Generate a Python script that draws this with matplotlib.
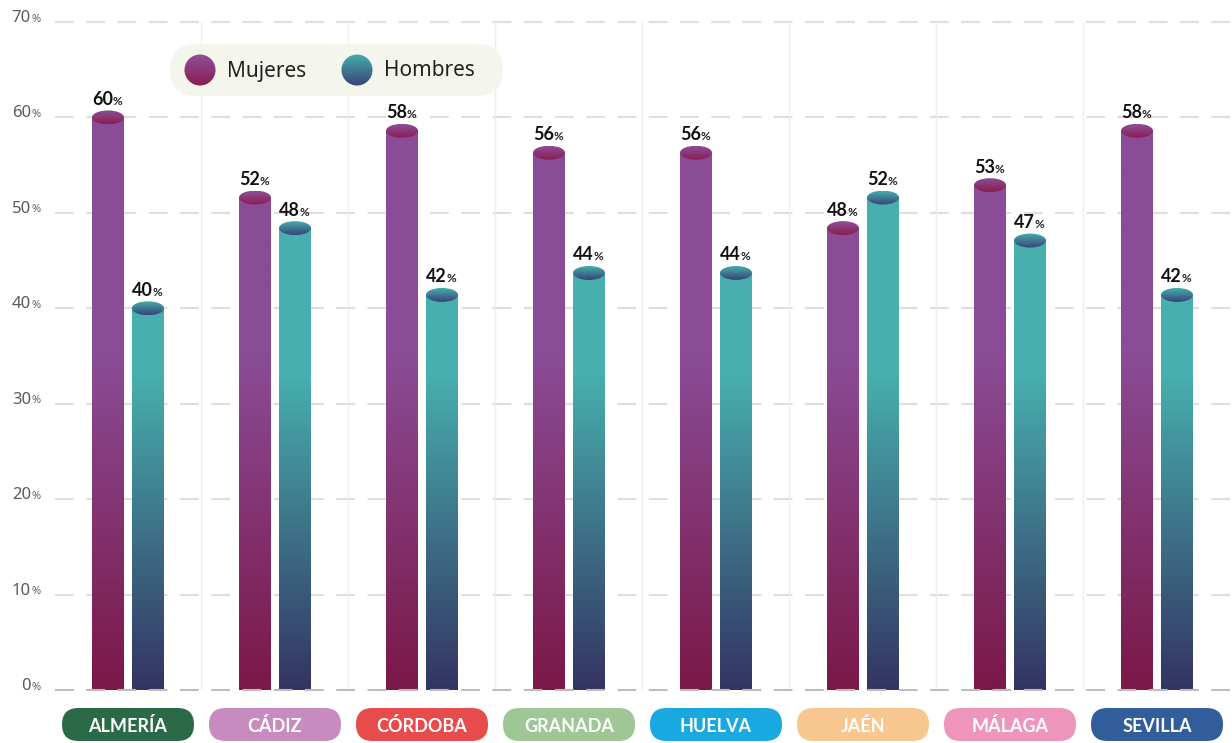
import numpy as np
import matplotlib
matplotlib.use("Agg")
import matplotlib.pyplot as plt
from matplotlib.colors import LinearSegmentedColormap, Normalize
from matplotlib.patches import Ellipse, Circle, FancyBboxPatch

plt.rcParams['font.family'] = ['Noto Sans', 'DejaVu Sans']
BOLD = ['Lato', 'DejaVu Sans']

provincias = ['ALMERÍA', 'CÁDIZ', 'CÓRDOBA', 'GRANADA', 'HUELVA', 'JAÉN', 'MÁLAGA', 'SEVILLA']
pill_colors = ['#2b6a47', '#c78bbf', '#e84b4b', '#9ec795', '#1aa8e0', '#f8c78f', '#ee95bc', '#325d9b']
mujeres = [60.0, 51.6, 58.6, 56.3, 56.3, 48.4, 52.9, 58.6]
hombres = [40.0, 48.4, 41.4, 43.7, 43.7, 51.6, 47.1, 41.4]
mujeres_lbl = ['60', '52', '58', '56', '56', '48', '53', '58']
hombres_lbl = ['40', '48', '42', '44', '44', '52', '47', '42']
yticks = [0, 10, 20, 30, 40, 50, 60, 70]

W, H = 1232, 743
fig = plt.figure(figsize=(W / 100, H / 100), dpi=100)
fig.patch.set_facecolor('white')
ax = fig.add_axes([54.5 / W, (H - 690) / H, (W - 54.5) / W, 668 / H])
ax.set_xlim(-0.5, (W - 128) / 147)
ax.set_ylim(0, 70)
ax.axis('off')

cm_muj = LinearSegmentedColormap.from_list('muj', [(0, '#7b1848'), (0.5, '#8a4c96'), (1, '#8a4c96')])
cm_hom = LinearSegmentedColormap.from_list('hom', [(0, '#343462'), (0.47, '#47afad'), (1, '#47afad')])
cap_muj = LinearSegmentedColormap.from_list('cm', ['#8a1d53', '#8c4f98'])
cap_hom = LinearSegmentedColormap.from_list('ch', ['#39437a', '#45aeab'])

# grid
for t in yticks:
    ax.axhline(t, color='#bdbdbd' if t == 0 else '#dedede', lw=1.5,
               dashes=(9, 6), zorder=5 if t == 0 else 0, clip_on=False)
for i in range(len(provincias) - 1):
    ax.plot([i + 0.5, i + 0.5], [0, 70], color='#ededed', lw=1, zorder=0)

x = np.arange(len(provincias))
bw = 32 / 147
off = 20 / 147
cap_h = 14 / (668 / 70)

def gradient_bars(rects, cmap, capmap):
    for r in rects:
        x0, w, h = r.get_x(), r.get_width(), r.get_height()
        vals = np.linspace(0, h, 200).reshape(-1, 1)
        im = ax.imshow(vals, cmap=cmap, norm=Normalize(0, 70), origin='lower',
                       extent=[x0, x0 + w, 0, h], aspect='auto', zorder=2)
        im.set_clip_path(r)
        el = Ellipse((x0 + w / 2, h), w, cap_h, facecolor='none', edgecolor='none', zorder=3)
        ax.add_patch(el)
        cv = np.linspace(0, 1, 50).reshape(-1, 1)
        im2 = ax.imshow(cv, cmap=capmap, origin='lower',
                        extent=[x0, x0 + w, h - cap_h / 2, h + cap_h / 2], aspect='auto', zorder=3)
        im2.set_clip_path(el)

b1 = ax.bar(x - off, mujeres, bw, color='none', edgecolor='none')
b2 = ax.bar(x + off, hombres, bw, color='none', edgecolor='none')
gradient_bars(b1, cm_muj, cap_muj)
gradient_bars(b2, cm_hom, cap_hom)

def value_labels(xs, vals, lbls):
    for xi, v, s in zip(xs, vals, lbls):
        ax.annotate(s, (xi, v), xytext=(3.5, 9), textcoords='offset points', ha='right',
                    va='baseline', fontsize=13, fontweight='bold', color='#111111', family=BOLD)
        ax.annotate('%', (xi, v), xytext=(3.5, 9), textcoords='offset points', ha='left',
                    va='baseline', fontsize=8.5, fontweight='bold', color='#222222', family=BOLD)

value_labels(x - off, mujeres, mujeres_lbl)
value_labels(x + off, hombres, hombres_lbl)

# overlay in pixel coordinates for legend, y labels and pills
ov = fig.add_axes([0, 0, 1, 1], zorder=10)
ov.set_xlim(0, W)
ov.set_ylim(H, 0)
ov.axis('off')
ov.patch.set_alpha(0)

for t in yticks:
    yp = H - ax.transData.transform((0, t))[1]
    ov.text(31, yp - 4, str(t), ha='right', va='center', fontsize=12, color='#5a5a5a')
    ov.text(31, yp - 3, '%', ha='left', va='center', fontsize=8, color='#666666')

# legend
ov.add_patch(FancyBboxPatch((170, 44), 333, 52, boxstyle='round,pad=0,rounding_size=26',
                            facecolor='#f4f5ec', edgecolor='none', zorder=1))
for cx, cmap, name in [(200, cap_muj, 'Mujeres'), (357, cap_hom, 'Hombres')]:
    c = Circle((cx, 70), 15.5, facecolor='none', edgecolor='none', zorder=3)
    ov.add_patch(c)
    im = ov.imshow(np.linspace(0, 1, 50).reshape(-1, 1), cmap=cmap, origin='lower',
                   extent=[cx - 16, cx + 16, 86, 54], aspect='auto', zorder=3)
    im.set_clip_path(c)
    ov.text(cx + 27, 71, name, ha='left', va='center', fontsize=15, color='#222222', zorder=4)
ov.set_xlim(0, W)
ov.set_ylim(H, 0)

# province pills
for i, (name, col) in enumerate(zip(provincias, pill_colors)):
    cx = ax.transData.transform((i, 0))[0]
    ov.add_patch(FancyBboxPatch((cx - 66, 708), 132, 33, boxstyle='round,pad=0,rounding_size=16.5',
                                facecolor=col, edgecolor='none'))
    ov.text(cx, 732, name, ha='center', va='baseline', fontsize=13,
            fontweight='bold', color='white', family=BOLD)

fig.savefig('out.png', dpi=100)
